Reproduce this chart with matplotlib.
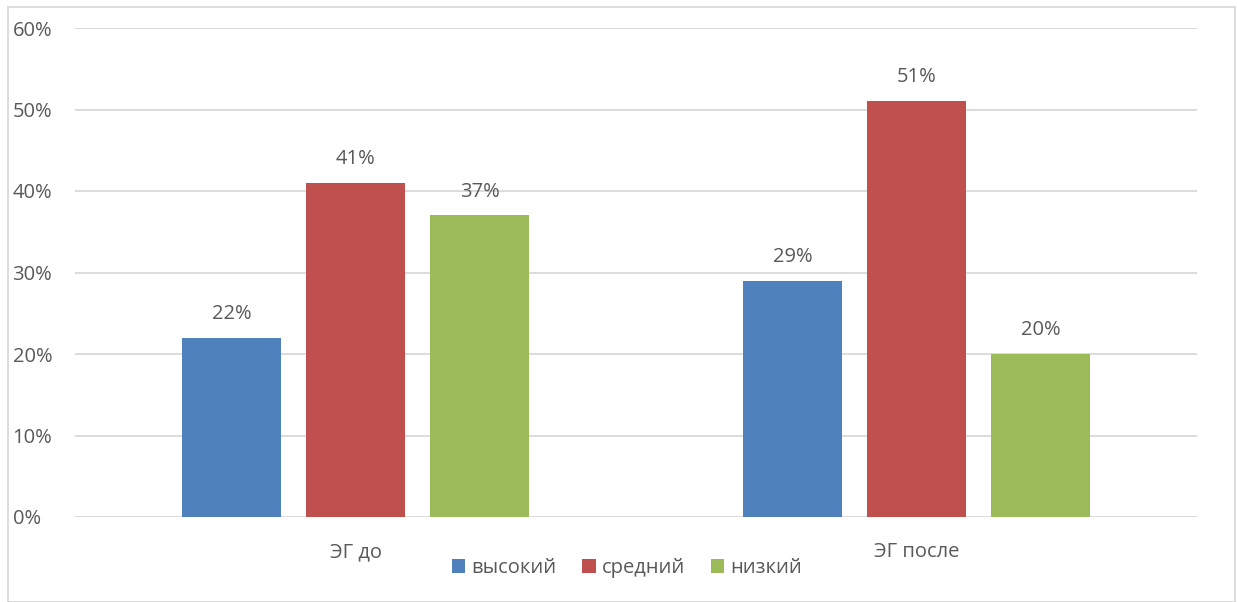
import matplotlib
matplotlib.use("Agg")
import matplotlib.pyplot as plt
from matplotlib.patches import Rectangle
import numpy as np

categories = ["ЭГ до", "ЭГ после"]
series_names = ["высокий", "средний", "низкий"]
vysokiy = [22, 29]
sredniy = [41, 51]
nizkiy = [37, 20]
yticks = [0, 10, 20, 30, 40, 50, 60]

colors = ["#4F81BD", "#C0504D", "#9BBB59"]
txt = "#595959"
plt.rcParams['font.family'] = ['Open Sans', 'DejaVu Sans']
fs = 14.5

W, H = 1237, 602
fig = plt.figure(figsize=(W/100, H/100), dpi=100)
ax = fig.add_axes([75/W, 1-517/H, (1197-75)/W, (517-28)/H])

x = np.arange(len(categories))
bw = 0.175
off = 0.221
for i, (vals, name) in enumerate(zip([vysokiy, sredniy, nizkiy], series_names)):
    bars = ax.bar(x + (i-1)*off, vals, width=bw, color=colors[i], label=name, zorder=3)
    for b, v in zip(bars, vals):
        ax.annotate(f"{v}%", (b.get_x()+b.get_width()/2, v), xytext=(0, 10),
                    textcoords="offset points", ha="center", va="bottom",
                    fontsize=fs, color=txt)

ax.set_xlim(-0.5, 1.5)
ax.set_ylim(0, 60)
ax.set_yticks(yticks)
ax.set_yticklabels([f"{t}%" for t in yticks])
ax.set_xticks(x)
ax.set_xticklabels(categories)
ax.tick_params(axis='y', length=0, pad=45, labelsize=fs, labelcolor=txt)
ax.tick_params(axis='x', length=0, pad=18, labelsize=fs, labelcolor=txt)
for lab in ax.get_yticklabels():
    lab.set_horizontalalignment('left')
ax.grid(axis='y', color="#D9D9D9", linewidth=1.3, zorder=0)
for s in ax.spines.values():
    s.set_visible(False)

leg = fig.legend(loc="center", bbox_to_anchor=(627/W, 1-568/H), ncol=3, frameon=False,
                 fontsize=fs, handlelength=0.65, handleheight=0.65, handletextpad=0.3,
                 columnspacing=1.3, labelcolor=txt)

fig.patches.append(Rectangle((8/W, 0), (1235-8)/W, 1-7/H, transform=fig.transFigure,
                             fill=False, edgecolor="#D9D9D9", linewidth=1.3))
fig.savefig("out.png", dpi=100)
